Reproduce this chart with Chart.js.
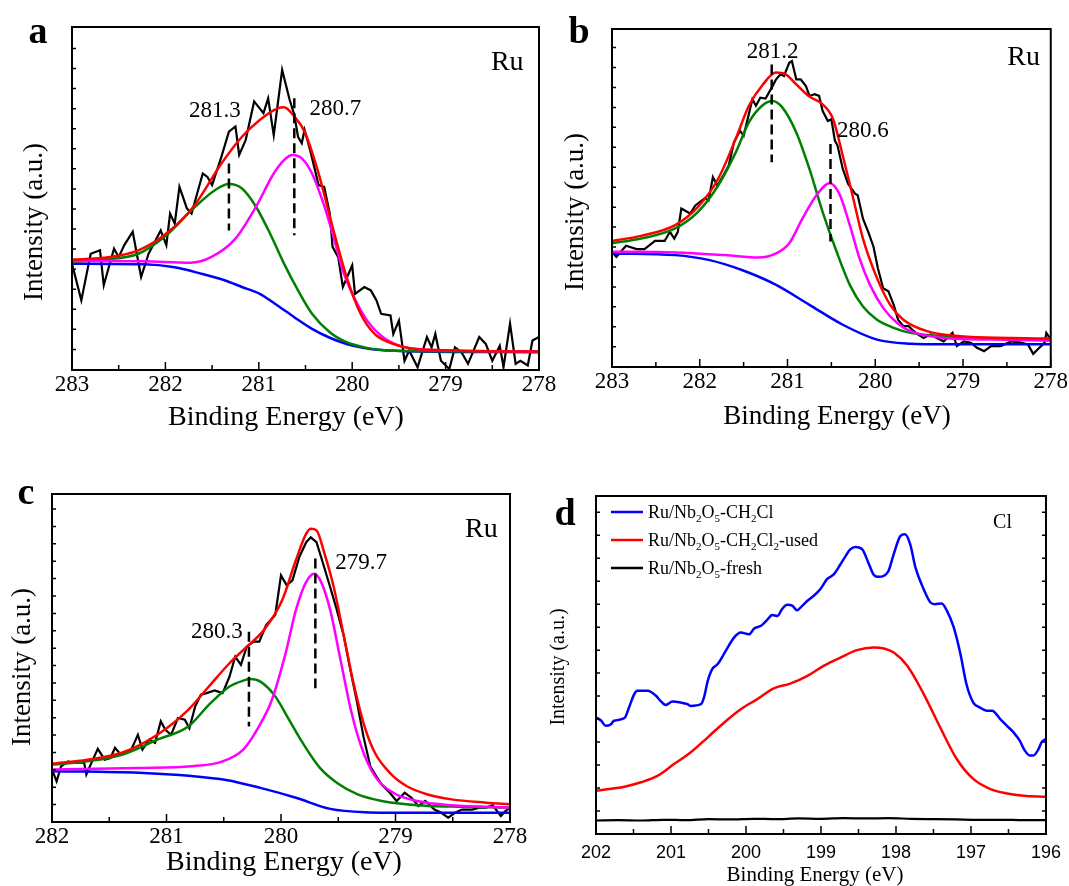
<!DOCTYPE html>
<html>
<head>
<meta charset="utf-8">
<script src="https://cdn.jsdelivr.net/npm/chart.js@4.4.0/dist/chart.umd.min.js"></script>
<style>
  body { margin: 0; background: #fff; width: 1069px; height: 886px; position: relative; overflow: hidden; }
  canvas { position: absolute; }
</style>
</head>
<body>
<canvas id="pa" width="560" height="440" style="left:0;top:0"></canvas>
<canvas id="pb" width="529" height="440" style="left:540px;top:0"></canvas>
<canvas id="pc" width="545" height="426" style="left:0;top:460px"></canvas>
<canvas id="pd" width="529" height="426" style="left:540px;top:460px"></canvas>
<script>
// ---- panel a (Ru 3d, sample 1) ----
const aRawE = [283.00,282.90,282.80,282.70,282.66,282.55,282.50,282.44,282.35,282.26,282.18,282.05,281.99,281.95,281.90,281.85,281.77,281.72,281.60,281.55,281.50,281.40,281.32,281.25,281.21,281.14,281.05,280.95,280.90,280.84,280.75,280.67,280.62,280.58,280.54,280.51,280.45,280.36,280.30,280.24,280.21,280.15,280.10,280.00,279.97,279.87,279.80,279.74,279.69,279.59,279.56,279.50,279.44,279.39,279.30,279.20,279.15,279.11,279.05,278.96,278.90,278.83,278.76,278.64,278.57,278.50,278.42,278.38,278.31,278.25,278.20,278.12,278.07,278.00];
const aRawI = [31.0,20.3,33.9,34.9,24.7,35.4,32.9,36.4,40.3,27.1,33.9,40.7,36.4,45.6,42.7,53.4,47.1,45.6,57.3,56.3,53.9,62.2,69.5,71.0,62.7,67.1,78.3,74.9,79.2,68.5,87.5,78.8,74.4,68.0,66.1,70.0,64.1,53.9,53.4,45.6,35.9,32.9,24.2,30.5,22.2,24.2,23.2,20.3,16.4,15.9,10.5,14.4,2.7,5.7,0.8,9.6,6.6,10.5,2.7,0.3,6.6,5.2,1.8,9.6,7.6,2.7,7.1,0.8,13.5,1.8,2.7,1.3,8.6,9.6];
const aSumE = [283,282.66,282.29,281.99,281.70,281.40,281.18,280.99,280.80,280.73,280.62,280.51,280.36,280.21,280.06,279.91,279.76,279.61,279.46,279.31,278.94,278.57,278];
const aSumI = [32.2,32.7,34.9,39.8,47.6,60.2,68.0,72.9,76.3,76.6,73.9,69.5,57.3,41.7,27.1,16.4,10.5,8.1,6.8,6.1,5.7,5.5,5.4];
const aP1E = [283,282.66,282.29,281.99,281.70,281.47,281.32,281.18,281.03,280.88,280.73,280.58,280.43,280.24,280.06,279.87,279.69,279.31,278];
const aP1I = [31.5,32.2,33.9,39.3,47.1,52.4,54.2,52.9,47.6,39.8,31.0,23.2,16.4,11.0,8.1,6.6,5.8,5.5,5.4];
const aP2E = [283,282.66,282.22,281.73,281.51,281.25,281.03,280.84,280.73,280.64,280.54,280.43,280.32,280.21,280.10,279.98,279.84,279.69,279.50,279.31,278.94,278];
const aP2I = [31.8,31.8,31.7,31.3,32.9,38.3,47.6,57.3,61.2,62.7,61.7,57.3,49.5,39.8,29.0,21.2,14.4,10.0,7.1,6.1,5.7,5.4];
const aBgE = [283,282.22,281.92,281.62,281.36,281.18,280.99,280.80,280.62,280.43,280.24,280.06,279.87,279.69,279.31,278];
const aBgI = [31.0,30.8,30.0,28.1,26.1,24.2,22.2,18.8,15.4,12.0,9.4,7.6,6.4,5.8,5.4,5.2];
const aMarkE = [281.32, 280.62];
const aMarkTop = [60.2, 79.2];
const aMarkBot = [40.7, 39.3];
const aMarkText = ['281.3', '280.7'];

// ---- panel b ----
const bRawE = [283.00,282.95,282.84,282.72,282.63,282.51,282.40,282.34,282.29,282.25,282.21,282.11,282.05,281.94,281.90,281.85,281.80,281.73,281.67,281.61,281.54,281.50,281.40,281.36,281.31,281.25,281.17,281.13,281.08,281.04,280.98,280.95,280.90,280.85,280.79,280.75,280.69,280.64,280.60,280.54,280.50,280.46,280.43,280.37,280.31,280.23,280.20,280.14,280.08,280.02,279.97,279.91,279.85,279.79,279.74,279.68,279.62,279.56,279.51,279.45,279.37,279.30,279.22,279.12,279.07,278.99,278.91,278.84,278.76,278.68,278.57,278.45,278.34,278.26,278.20,278.15,278.07,278.05,278.00];
const bRawI = [34.1,32.6,35.9,34.9,34.9,37.3,37.3,40.0,38.0,40.0,46.9,45.4,47.8,50.0,49.3,56.2,53.7,56.7,59.6,66.5,69.9,68.4,79.2,77.3,79.7,79.4,83.1,85.1,86.6,86.1,90.0,90.5,85.1,85.1,83.1,80.2,80.7,80.2,75.8,72.8,73.3,67.0,65.5,58.6,54.2,51.3,50.8,43.9,40.0,35.6,29.2,23.3,22.4,18.4,14.0,12.1,12.1,10.6,9.6,8.6,9.6,8.6,7.6,10.1,6.2,7.6,7.2,5.7,4.7,6.2,6.2,7.6,7.2,6.7,3.9,5.2,7.2,10.1,8.1];
const bSumE = [283,282.67,282.28,282.02,281.79,281.59,281.44,281.28,281.13,281.02,280.90,280.75,280.60,280.48,280.37,280.25,280.14,279.98,279.83,279.68,279.41,279.03,278.45,278];
const bSumI = [37.3,38.8,42.0,47.4,55.7,67.5,77.3,83.6,87.1,86.6,83.6,80.0,77.7,73.3,62.5,49.8,38.0,26.3,18.4,14.0,10.6,9.1,8.6,8.4];
const bP1E = [283,282.67,282.28,282.02,281.79,281.59,281.44,281.29,281.17,281.06,280.90,280.75,280.60,280.44,280.29,280.14,279.98,279.79,279.60,279.22,278.64,278];
const bP1I = [36.6,38.0,41.0,45.9,53.7,63.5,72.4,77.3,78.7,76.8,69.4,58.6,45.9,34.1,24.3,17.9,14.0,11.6,10.1,9.1,8.4,8.1];
const bP2E = [283,282.28,281.71,281.33,281.13,280.98,280.83,280.67,280.52,280.41,280.29,280.18,280.06,279.91,279.75,279.60,279.22,278.64,278];
const bP2I = [34.1,33.9,33.1,32.4,33.6,36.6,43.9,50.8,54.4,51.3,42.0,32.2,24.3,17.5,13.0,10.6,8.6,8.1,7.8];
const bBgE = [283,282.28,281.90,281.52,281.13,280.75,280.37,279.98,279.60,279.22,278];
const bBgI = [33.6,33.1,31.7,28.7,24.3,18.4,12.5,8.1,6.9,6.7,6.7];
const bMarkE = [281.18, 280.51];
const bMarkTop = [89.5, 66.0];
const bMarkBot = [60.6, 37.1];
const bMarkText = ['281.2', '280.6'];

// ---- panel c ----
const cRawE = [282.00,281.96,281.92,281.86,281.80,281.72,281.70,281.65,281.60,281.54,281.49,281.45,281.40,281.31,281.25,281.21,281.15,281.10,281.05,281.01,280.96,280.90,280.84,280.80,280.75,280.70,280.65,280.58,280.51,280.45,280.40,280.35,280.30,280.24,280.19,280.13,280.05,280.00,279.95,279.90,279.84,279.78,279.74,279.69,279.65,279.58,279.52,279.45,279.40,279.34,279.28,279.22,279.16,279.12,279.05,278.99,278.92,278.86,278.80,278.74,278.66,278.60,278.54,278.48,278.42,278.33,278.27,278.21,278.15,278.08,278.04,278.00];
const cRawI = [16.0,12.4,17.0,18.5,18.0,18.2,14.5,18.5,22.3,19.0,19.5,22.6,20.6,21.9,26.6,22.1,25.1,24.1,30.7,28.1,26.6,31.7,31.2,28.6,35.2,38.8,39.3,40.1,39.3,44.3,50.4,47.9,53.4,55.0,55.0,60.0,63.1,75.2,72.2,73.7,80.8,85.3,86.8,85.3,80.8,72.7,65.6,56.5,47.4,37.2,26.1,17.0,13.5,11.4,8.9,6.4,8.9,7.4,4.9,6.4,3.8,2.8,1.3,2.8,3.8,3.8,4.4,4.4,5.1,1.8,3.3,4.4];
const cSumE = [282,281.69,281.39,281.08,280.81,280.63,280.45,280.30,280.15,279.99,279.87,279.78,279.74,279.69,279.62,279.54,279.45,279.36,279.27,279.18,279.05,278.90,278.72,278.51,278.21,278];
const cSumI = [17.8,19.0,21.1,26.6,34.2,41.3,48.4,53.4,58.5,67.6,79.8,87.9,89.4,88.9,81.8,71.7,56.5,41.3,29.1,21.1,15.0,10.9,8.4,6.9,5.9,5.4];
const cP1E = [282,281.69,281.39,281.08,280.81,280.63,280.45,280.33,280.27,280.18,280.05,279.93,279.81,279.66,279.51,279.33,279.12,278.81,278.51,278];
const cP1I = [17.5,18.5,20.5,25.1,29.1,35.7,41.3,43.1,43.6,42.8,38.3,31.2,24.1,16.5,11.9,8.4,6.4,5.1,4.7,4.4];
const cP2E = [282,281.24,280.78,280.51,280.33,280.21,280.08,279.96,279.87,279.78,279.71,279.65,279.57,279.48,279.39,279.30,279.18,279.02,278.81,278.51,278];
const cP2I = [16.0,16.5,17.0,18.5,22.1,28.1,37.2,51.4,64.6,73.2,75.7,73.2,64.6,49.4,34.2,23.1,14.0,8.9,6.4,5.1,4.4];
const cBgE = [282,281.24,280.78,280.48,280.18,279.87,279.57,279.27,278.81,278];
const cBgI = [15.5,15.0,14.0,12.8,10.4,7.4,4.0,3.0,2.8,2.8];
const cMarkE = [280.28, 279.70];
const cMarkTop = [58.0, 80.3];
const cMarkBot = [29.1, 40.8];
const cMarkText = ['280.3', '279.7'];

// ---- panel d (Cl 2p) ----
const dSeriesNames = ['Ru/Nb_2O_5-CH_2Cl', 'Ru/Nb_2O_5-CH_2Cl_2-used', 'Ru/Nb_2O_5-fresh'];
const dClE = [202.00,201.93,201.87,201.80,201.76,201.62,201.56,201.49,201.45,201.31,201.20,201.14,201.07,200.98,200.87,200.78,200.74,200.60,200.56,200.51,200.45,200.38,200.27,200.16,200.07,199.96,199.89,199.80,199.72,199.65,199.58,199.52,199.45,199.38,199.32,199.25,199.18,199.10,199.01,198.92,198.83,198.74,198.67,198.61,198.54,198.45,198.36,198.30,198.23,198.16,198.10,198.03,197.94,197.88,197.81,197.74,197.63,197.54,197.48,197.39,197.32,197.23,197.14,197.06,196.97,196.88,196.79,196.72,196.61,196.52,196.43,196.35,196.28,196.21,196.17,196.10,196.06,196.00];
const dClI = [34.5,33.5,32.0,32.5,33.5,34.3,37.4,41.4,42.4,42.4,40.9,39.4,38.2,39.2,38.9,38.4,37.9,38.4,40.4,45.3,48.8,50.2,54.2,58.1,59.6,59.1,60.8,61.6,63.3,64.8,64.5,66.5,67.8,67.5,66.2,67.5,69.0,70.4,72.4,75.4,76.8,79.8,82.3,84.2,84.9,84.2,79.8,76.8,76.1,76.4,77.8,82.8,88.2,88.7,85.7,78.8,72.4,68.5,68.0,68.2,66.0,61.1,53.2,44.3,38.9,37.4,36.5,36.5,34.0,32.0,30.0,27.6,24.6,23.2,23.2,25.1,27.1,28.1];
const dUsedE = [202,201.62,201.40,201.18,200.96,200.74,200.51,200.29,200.07,199.85,199.63,199.41,199.18,198.96,198.74,198.52,198.30,198.16,198.03,197.85,197.63,197.41,197.19,196.97,196.74,196.52,196.30,196];
const dUsedI = [12.8,14.0,15.3,17.2,20.7,24.1,28.6,33.0,36.9,39.9,43.1,44.5,46.8,49.8,52.2,54.4,55.2,54.9,53.7,49.8,41.4,31.5,22.2,16.3,13.3,12.0,11.3,11.0];
const dFreshE = [202,201.7,201.4,201.1,200.8,200.5,200.2,199.9,199.6,199.3,199,198.7,198.4,198.1,197.8,197.5,197.2,196.9,196.6,196.3,196];
const dFreshI = [4.0,4.1,4.0,4.2,4.1,4.4,4.3,4.5,4.4,4.6,4.5,4.7,4.6,4.7,4.5,4.4,4.3,4.2,4.2,4.1,4.1];

const SERIF = '"Liberation Serif", "Times New Roman", serif';
const SANS = '"Liberation Sans", Arial, sans-serif';

function pts(xs, ys) { return xs.map((x, i) => ({ x: x, y: ys[i] })); }

function curve(xs, ys, color, width, order, smooth) {
  return {
    data: pts(xs, ys), borderColor: color, borderWidth: width, pointRadius: 0,
    fill: false, order: order, tension: 0,
    cubicInterpolationMode: smooth ? 'monotone' : 'default'
  };
}

function markers(es, tops, bots) {
  return es.map((e, i) => ({
    data: [{ x: e, y: tops[i] }, { x: e, y: bots[i] }],
    borderColor: '#000', borderWidth: 2.5, borderDash: [10, 5], pointRadius: 0, order: 0
  }));
}

// subscript text: "_x" puts x lower and smaller
function drawRich(ctx, s, x, y, size) {
  let i = 0;
  while (i < s.length) {
    if (s[i] === '_') {
      ctx.font = Math.round(size * 0.62) + 'px ' + SERIF;
      ctx.fillText(s[i + 1], x, y + size * 0.22);
      x += ctx.measureText(s[i + 1]).width;
      i += 2;
    } else {
      let j = i;
      while (j < s.length && s[j] !== '_') j++;
      const t = s.slice(i, j);
      ctx.font = size + 'px ' + SERIF;
      ctx.fillText(t, x, y);
      x += ctx.measureText(t).width;
      i = j;
    }
  }
}

const decor = {
  id: 'decor',
  afterDraw(chart, args, o) {
    const { ctx, chartArea: a, scales: { x, y } } = chart;
    ctx.save();
    ctx.strokeStyle = '#000';
    ctx.fillStyle = '#000';
    // frame
    ctx.lineWidth = 2;
    ctx.strokeRect(a.left, a.top, a.right - a.left, a.bottom - a.top);
    // inward ticks
    ctx.lineWidth = 1.5;
    ctx.beginPath();
    for (let v = x.min; v <= x.max + 1e-6; v += 0.5) {
      const px = x.getPixelForValue(v);
      const len = Math.abs(v - Math.round(v)) < 1e-6 ? 8 : 5;
      ctx.moveTo(px, a.bottom); ctx.lineTo(px, a.bottom - len);
    }
    for (let v = o.yStart; v < 99; v += o.yStep) {
      const py = y.getPixelForValue(v);
      ctx.moveTo(a.left, py); ctx.lineTo(a.left + 4, py);
      if (o.rightTicks) { ctx.moveTo(a.right, py); ctx.lineTo(a.right - 4, py); }
    }
    ctx.stroke();
    // axis titles
    ctx.textAlign = 'center';
    ctx.textBaseline = 'middle';
    ctx.font = o.titleSize + 'px ' + SERIF;
    ctx.fillText('Binding Energy (eV)', o.xTitle[0], o.xTitle[1]);
    ctx.save();
    ctx.translate(o.yTitle[0], o.yTitle[1]);
    ctx.rotate(-Math.PI / 2);
    ctx.font = o.yTitleSize + 'px ' + SERIF;
    ctx.fillText('Intensity (a.u.)', 0, 0);
    ctx.restore();
    // panel letter
    ctx.textBaseline = 'alphabetic';
    ctx.font = 'bold 38px ' + SERIF;
    ctx.fillText(o.letter, o.letterAt[0], o.letterAt[1]);
    // element name
    ctx.font = o.elemSize + 'px ' + SERIF;
    ctx.fillText(o.elem, x.getPixelForValue(o.elemAt[0]), y.getPixelForValue(o.elemAt[1]));
    // peak position labels
    if (o.peaks) {
      ctx.font = '23px ' + SERIF;
      o.peaks.forEach(p => ctx.fillText(p.t, x.getPixelForValue(p.e), y.getPixelForValue(p.i)));
    }
    // legend
    if (o.legend) {
      ctx.textAlign = 'left';
      o.legend.forEach((it, k) => {
        const yy = o.legendY + k * o.legendGap;
        ctx.strokeStyle = it.color;
        ctx.lineWidth = 2.5;
        ctx.beginPath(); ctx.moveTo(o.legendX, yy); ctx.lineTo(o.legendX + 32, yy); ctx.stroke();
        ctx.fillStyle = '#000';
        drawRich(ctx, it.text, o.legendX + 37, yy + 6, 18);
      });
    }
    ctx.restore();
  }
};

function panel(id, sets, p) {
  new Chart(document.getElementById(id), {
    type: 'line',
    data: { datasets: sets },
    options: {
      responsive: false, animation: false, devicePixelRatio: 1,
      layout: { padding: p.pad },
      plugins: { legend: { display: false }, tooltip: { enabled: false }, decor: p.decor },
      scales: {
        x: {
          type: 'linear', reverse: true, min: p.xMin, max: p.xMax,
          grid: { display: false, drawTicks: false }, border: { display: false },
          ticks: { stepSize: 1, color: '#000', font: p.tickFont, padding: p.tickPad, maxRotation: 0, autoSkip: false },
          afterFit: s => { s.height = p.xHeight; }
        },
        y: { display: false, min: 0, max: 100 }
      }
    },
    plugins: [decor]
  });
}

const RED = '#ff0000', GREEN = '#008000', MAG = '#ff00ff', BLUE = '#0000ff';

function ruSets(raw, sum, p1, p2, bg, mk) {
  return [
    curve(raw[0], raw[1], '#000', 2.2, 5, false),
    curve(bg[0], bg[1], BLUE, 2.5, 4, true),
    curve(p1[0], p1[1], GREEN, 2.5, 3, true),
    curve(p2[0], p2[1], MAG, 2.5, 2, true),
    curve(sum[0], sum[1], RED, 2.5, 1, true)
  ].concat(markers(mk[0], mk[1], mk[2]));
}

panel('pa', ruSets([aRawE, aRawI], [aSumE, aSumI], [aP1E, aP1I], [aP2E, aP2I], [aBgE, aBgI], [aMarkE, aMarkTop, aMarkBot]), {
  xMin: 278, xMax: 283, pad: { left: 72, top: 27, right: 21, bottom: 0 }, xHeight: 70,
  tickFont: { family: SERIF, size: 23 }, tickPad: 1,
  decor: {
    yStart: 6, yStep: 5.85, titleSize: 28, yTitleSize: 27,
    xTitle: [286, 418], yTitle: [35, 222], letter: 'a', letterAt: [38, 43],
    elem: 'Ru', elemSize: 28, elemAt: [278.34, 87.5],
    peaks: [{ t: aMarkText[0], e: 281.47, i: 73.8 }, { t: aMarkText[1], e: 280.18, i: 74.3 }]
  }
});

panel('pb', ruSets([bRawE, bRawI], [bSumE, bSumI], [bP1E, bP1I], [bP2E, bP2I], [bBgE, bBgI], [bMarkE, bMarkTop, bMarkBot]), {
  xMin: 278, xMax: 283, pad: { left: 72, top: 29, right: 18, bottom: 0 }, xHeight: 73,
  tickFont: { family: SERIF, size: 23 }, tickPad: 1,
  decor: {
    yStart: 6, yStep: 5.9, titleSize: 27, yTitleSize: 27,
    xTitle: [297, 417], yTitle: [36, 212], letter: 'b', letterAt: [39, 43],
    elem: 'Ru', elemSize: 28, elemAt: [278.31, 89.3],
    peaks: [{ t: bMarkText[0], e: 281.17, i: 91.4 }, { t: bMarkText[1], e: 280.14, i: 68.0 }]
  }
});

panel('pc', ruSets([cRawE, cRawI], [cSumE, cSumI], [cP1E, cP1I], [cP2E, cP2I], [cBgE, cBgI], [cMarkE, cMarkTop, cMarkBot]), {
  xMin: 278, xMax: 282, pad: { left: 52, top: 34, right: 35, bottom: 0 }, xHeight: 64,
  tickFont: { family: SERIF, size: 23 }, tickPad: 1,
  decor: {
    yStart: 5.3, yStep: 5.3, titleSize: 28, yTitleSize: 27,
    xTitle: [284, 403], yTitle: [23, 207], letter: 'c', letterAt: [26, 44],
    elem: 'Ru', elemSize: 28, elemAt: [278.25, 86.9],
    peaks: [{ t: cMarkText[0], e: 280.56, i: 56.1 }, { t: cMarkText[1], e: 279.30, i: 77.1 }]
  }
});

panel('pd', [
  curve(dClE, dClI, BLUE, 2.5, 2, true),
  curve(dUsedE, dUsedI, RED, 2.5, 1, true),
  curve(dFreshE, dFreshI, '#000', 2.2, 3, true)
], {
  xMin: 196, xMax: 202, pad: { left: 56, top: 36, right: 17, bottom: 0 }, xHeight: 52,
  tickFont: { family: SANS, size: 18 }, tickPad: 8,
  decor: {
    yStart: 6.8, yStep: 6.8, rightTicks: true, titleSize: 21, yTitleSize: 20,
    xTitle: [275, 415], yTitle: [19, 207], letter: 'd', letterAt: [25, 65],
    elem: 'Cl', elemSize: 20, elemAt: [196.58, 90.5],
    legendX: 71, legendY: 52, legendGap: 28,
    legend: [
      { color: BLUE, text: dSeriesNames[0] },
      { color: RED, text: dSeriesNames[1] },
      { color: '#000', text: dSeriesNames[2] }
    ]
  }
});
</script>
</body>
</html>
